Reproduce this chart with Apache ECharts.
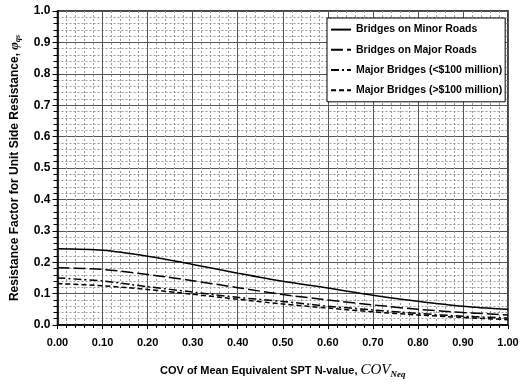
<!DOCTYPE html>
<html>
<head>
<meta charset="utf-8">
<script src="https://cdn.jsdelivr.net/npm/echarts@6/dist/echarts.min.js"></script>
<style>
html,body{margin:0;padding:0;background:#fff;}
#chart{width:527px;height:384px;}
</style>
</head>
<body>
<div id="chart"></div>
<script>
const covValues = [0.0, 0.1, 0.2, 0.3, 0.4, 0.5, 0.6, 0.7, 0.8, 0.9, 1.0];
const seriesNames = [
  'Bridges on Minor Roads',
  'Bridges on Major Roads',
  'Major Bridges (<$100 million)',
  'Major Bridges (>$100 million)'
];
const minorRoads   = [0.243, 0.238, 0.219, 0.193, 0.165, 0.139, 0.118, 0.095, 0.076, 0.060, 0.050];
const majorRoads   = [0.182, 0.177, 0.161, 0.141, 0.119, 0.097, 0.080, 0.064, 0.050, 0.040, 0.032];
const majorUnder   = [0.150, 0.140, 0.122, 0.105, 0.088, 0.075, 0.060, 0.048, 0.037, 0.028, 0.022];
const majorOver    = [0.132, 0.125, 0.113, 0.098, 0.082, 0.067, 0.054, 0.042, 0.032, 0.024, 0.017];
const allSeries = [minorRoads, majorRoads, majorUnder, majorOver];
const dashTypes = ['solid', [12, 4], [8, 3, 2, 3], [5, 3]];

const FONT = "'Liberation Sans', Arial, sans-serif";
const SERIF = "'Liberation Serif', 'Times New Roman', serif";

const chart = echarts.init(document.getElementById('chart'), null, {renderer: 'canvas'});

const series = allSeries.map((vals, i) => ({
  name: seriesNames[i],
  type: 'line',
  data: covValues.map((c, j) => [c, vals[j]]),
  smooth: 0.3,
  symbol: 'none',
  symbolSize: 0,
  lineStyle: {color: '#000', width: 1.5, type: dashTypes[i]},
  itemStyle: {color: '#000'},
  z: 5
}));

chart.setOption({
  animation: false,
  backgroundColor: '#fff',
  grid: {left: 54, right: 19, top: 11, bottom: 56, show: true, borderColor: '#000', borderWidth: 1.5, backgroundColor: 'transparent'},
  legend: {
    data: seriesNames,
    orient: 'vertical',
    left: 327,
    top: 18,
    itemWidth: 20,
    itemHeight: 14,
    itemGap: 9,
    padding: [6, 3, 6, 3],
    backgroundColor: '#fff',
    borderColor: '#000',
    borderWidth: 1,
    itemStyle: {opacity: 0},
    textStyle: {fontFamily: FONT, fontWeight: 'bold', fontSize: 10.5, color: '#000'}
  },
  xAxis: {
    type: 'value',
    min: 0, max: 1, interval: 0.1,
    name: '{a|COV of Mean Equivalent SPT N-value, }{b|COV}{c|Neq}',
    nameLocation: 'middle',
    nameGap: 37,
    nameTextStyle: {
      rich: {
        a: {fontFamily: FONT, fontWeight: 'bold', fontSize: 11, color: '#000'},
        b: {fontFamily: SERIF, fontStyle: 'italic', fontSize: 15, color: '#000'},
        c: {fontFamily: SERIF, fontStyle: 'italic', fontWeight: 'bold', fontSize: 9, color: '#000', padding: [8, 0, 0, 0]}
      }
    },
    axisLine: {lineStyle: {color: '#000', width: 1.5}},
    axisTick: {show: true, length: 4, lineStyle: {color: '#000'}},
    minorTick: {show: true, splitNumber: 5, length: 3, lineStyle: {color: '#000'}},
    splitLine: {show: true, lineStyle: {color: '#555', width: 1}},
    minorSplitLine: {show: true, lineStyle: {color: '#999', width: 1, type: [2, 2]}},
    axisLabel: {fontFamily: FONT, fontWeight: 'bold', fontSize: 11, color: '#000', margin: 12, formatter: v => v.toFixed(2)}
  },
  yAxis: {
    type: 'value',
    min: 0, max: 1, interval: 0.1,
    name: '{a|Resistance Factor for Unit Side Resistance, }{b|φ}{c|qs}',
    nameLocation: 'middle',
    nameGap: 36,
    nameTextStyle: {
      rich: {
        a: {fontFamily: FONT, fontWeight: 'bold', fontSize: 12, color: '#000'},
        b: {fontFamily: SERIF, fontStyle: 'italic', fontWeight: 'bold', fontSize: 13, color: '#000'},
        c: {fontFamily: SERIF, fontStyle: 'italic', fontWeight: 'bold', fontSize: 8, color: '#000', padding: [6, 0, 0, 0]}
      }
    },
    axisLine: {show: true, lineStyle: {color: '#000', width: 1.5}},
    axisTick: {show: true, length: 5, lineStyle: {color: '#000'}},
    minorTick: {show: true, splitNumber: 5, length: 4, lineStyle: {color: '#000'}},
    splitLine: {show: true, lineStyle: {color: '#555', width: 1}},
    minorSplitLine: {show: true, lineStyle: {color: '#999', width: 1, type: [2, 2]}},
    axisLabel: {fontFamily: FONT, fontWeight: 'bold', fontSize: 12, color: '#000', margin: 7, formatter: v => v.toFixed(1)}
  },
  series: series
});
</script>
</body>
</html>
